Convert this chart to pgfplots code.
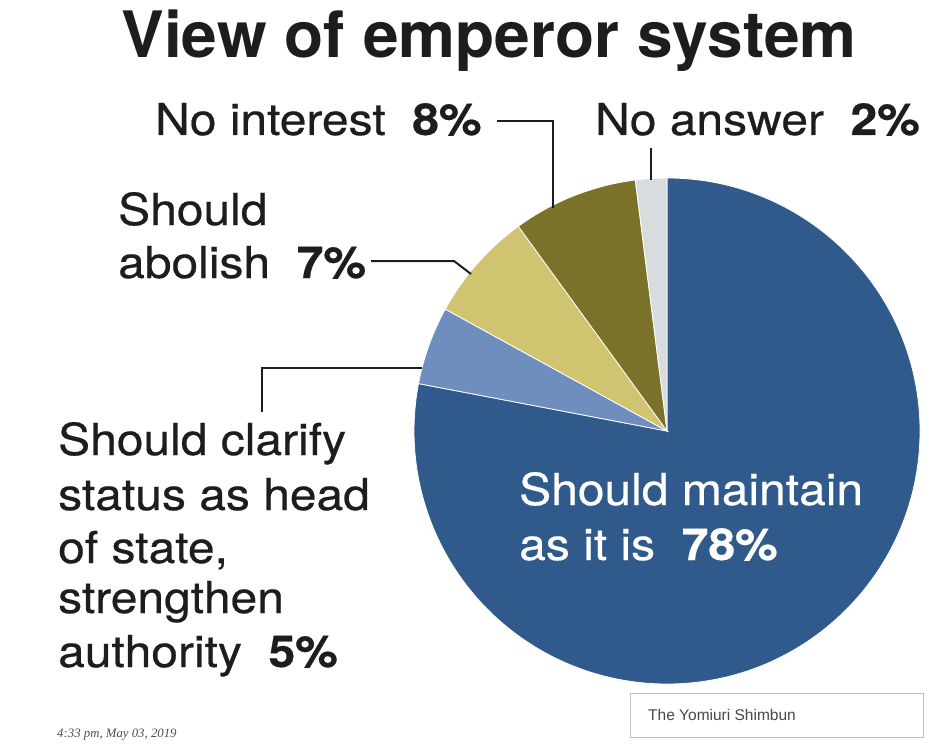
\documentclass[border=0pt]{standalone}
\usepackage{fontspec}
\setmainfont{TeX Gyre Heros}
\newfontfamily\lbl[FakeStretch=1.09,FakeBold=0.5]{TeX Gyre Heros}
\newfontfamily\datefont{Liberation Serif}
\newfontfamily\boxfont{Liberation Sans}
\usepackage{pgfplots}
\usepackage{pgfplotstable}
\pgfplotsset{compat=1.18}

\definecolor{cmaintain}{RGB}{48,90,139}
\definecolor{cclarify}{RGB}{111,141,189}
\definecolor{cabolish}{RGB}{208,196,113}
\definecolor{cnointerest}{RGB}{123,114,41}
\definecolor{cnoanswer}{RGB}{217,220,223}
\definecolor{ink}{RGB}{30,28,30}

% shares in percent, clockwise from 12 o'clock
\pgfplotstableread{
name       value colour
maintain   78    cmaintain
clarify    5     cclarify
abolish    7     cabolish
nointerest 8     cnointerest
noanswer   2     cnoanswer
}\piedata

\newcommand\lf{\lbl\fontsize{44bp}{53bp}\selectfont}

\begin{document}
\begin{tikzpicture}
\begin{axis}[
    width=934bp, height=745bp, scale only axis,
    xmin=0, xmax=934, ymin=0, ymax=745,
    y dir=reverse,
    hide axis, clip=false,
]
\path (axis cs:0,0) (axis cs:934,745);

% pie slices
\pgfplotstablegetrowsof{\piedata}
\pgfmathtruncatemacro\nrows{\pgfplotsretval-1}
\def\angstart{90}
\pgfplotsforeachungrouped \i in {0,...,\nrows}{%
  \pgfplotstablegetelem{\i}{value}\of\piedata \let\val\pgfplotsretval
  \pgfplotstablegetelem{\i}{colour}\of\piedata \let\col\pgfplotsretval
  \pgfmathsetmacro\angend{\angstart-3.6*\val}
  \edef\doslice{\noexpand\fill[\col,draw=white,line width=0.8bp]
    (axis cs:667,431) -- ++(\angstart:253bp)
    arc[start angle=\angstart,end angle=\angend,radius=253bp] -- cycle;}
  \doslice
  \global\let\angstart\angend
}

% leader lines
\draw[ink,line width=2bp] (axis cs:497,121) -- (axis cs:553,121) -- (axis cs:553,208);
\draw[ink,line width=2bp] (axis cs:651,148) -- (axis cs:651,180);
\draw[ink,line width=2bp] (axis cs:371,261) -- (axis cs:454,261) -- (axis cs:471,274);
\draw[ink,line width=2bp] (axis cs:262,412) -- (axis cs:262,368) -- (axis cs:422,368);

% title
\node[font=\fontsize{64bp}{70bp}\selectfont\bfseries, text=ink, anchor=base, inner sep=0]
  at (axis cs:489,58) {View of emperor system};

% labels
\begin{scope}[every node/.style={font=\lf, text=ink, anchor=base west, inner sep=0}]
\node at (axis cs:155,135) {No interest\ \ \textbf{8\%}};
\node at (axis cs:595,135) {No answer\ \ \textbf{2\%}};
\node at (axis cs:118,225) {Should};
\node at (axis cs:118,278) {abolish\ \ \textbf{7\%}};
\node at (axis cs:58,455) {Should clarify};
\node at (axis cs:58,510) {status as head};
\node at (axis cs:58,563) {of state,};
\node at (axis cs:58,613) {strengthen};
\node at (axis cs:58,667) {authority\ \ \textbf{5\%}};
\node[text=white] at (axis cs:519,505) {Should maintain};
\node[text=white] at (axis cs:519,560) {as it is\ \ \textbf{78\%}};
\end{scope}

% footer
\draw[black!25, fill=white, line width=1bp] (axis cs:630,693) rectangle (axis cs:923,737);
\node[font=\boxfont\fontsize{15.5bp}{18bp}\selectfont, text=black!72, anchor=base west, inner sep=0]
  at (axis cs:648,720) {The Yomiuri Shimbun};
\node[font=\datefont\itshape\fontsize{12.8bp}{14bp}\selectfont, text=black!70, anchor=base west, inner sep=0]
  at (axis cs:57,737) {4:33 pm, May 03, 2019};
\end{axis}
\end{tikzpicture}
\end{document}
